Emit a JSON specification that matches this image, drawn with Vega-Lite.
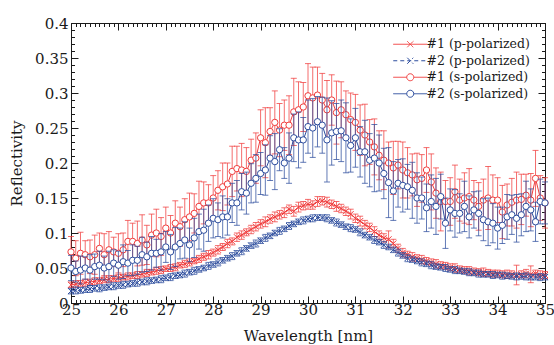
{
"$schema": "https://vega.github.io/schema/vega-lite/v6.json",
"width": 474, "height": 280,
"autosize": {"type": "none"},
"padding": {"left": 71, "top": 23, "right": 9, "bottom": 42},
"background": "white",
"config": {
  "view": {"stroke": "#1a1a1a", "strokeWidth": 1},
  "font": "DejaVu Serif",
  "axis": {"labelFont": "DejaVu Serif", "titleFont": "DejaVu Serif", "labelFontSize": 15, "titleFontSize": 15, "titleFontWeight": "normal", "labelColor": "#1a1a1a", "titleColor": "#1a1a1a", "tickColor": "#1a1a1a", "domain": false, "grid": false, "labelFlush": false, "labelOverlap": false},
  "legend": {"labelFont": "DejaVu Serif"}
},
"data": {"values": [
{"w":25.0,"p1":0.026,"p1e":0.004,"p2":0.017,"p2e":0.004,"s1":0.073,"s1e":0.022,"s2":0.050,"s2e":0.018},
{"w":25.1,"p1":0.027,"p1e":0.005,"p2":0.018,"p2e":0.005,"s1":0.064,"s1e":0.025,"s2":0.045,"s2e":0.015},
{"w":25.2,"p1":0.028,"p1e":0.004,"p2":0.018,"p2e":0.004,"s1":0.071,"s1e":0.030,"s2":0.047,"s2e":0.020},
{"w":25.3,"p1":0.029,"p1e":0.005,"p2":0.019,"p2e":0.004,"s1":0.069,"s1e":0.020,"s2":0.050,"s2e":0.016},
{"w":25.4,"p1":0.030,"p1e":0.004,"p2":0.020,"p2e":0.005,"s1":0.066,"s1e":0.024,"s2":0.047,"s2e":0.022},
{"w":25.5,"p1":0.031,"p1e":0.005,"p2":0.021,"p2e":0.004,"s1":0.069,"s1e":0.028,"s2":0.052,"s2e":0.018},
{"w":25.6,"p1":0.032,"p1e":0.004,"p2":0.021,"p2e":0.005,"s1":0.078,"s1e":0.022,"s2":0.054,"s2e":0.020},
{"w":25.7,"p1":0.033,"p1e":0.004,"p2":0.022,"p2e":0.004,"s1":0.069,"s1e":0.030,"s2":0.050,"s2e":0.017},
{"w":25.8,"p1":0.034,"p1e":0.005,"p2":0.023,"p2e":0.004,"s1":0.076,"s1e":0.026,"s2":0.052,"s2e":0.022},
{"w":25.9,"p1":0.035,"p1e":0.004,"p2":0.024,"p2e":0.005,"s1":0.073,"s1e":0.021,"s2":0.057,"s2e":0.019},
{"w":26.0,"p1":0.036,"p1e":0.005,"p2":0.025,"p2e":0.004,"s1":0.071,"s1e":0.028,"s2":0.054,"s2e":0.020},
{"w":26.1,"p1":0.037,"p1e":0.004,"p2":0.026,"p2e":0.005,"s1":0.076,"s1e":0.024,"s2":0.059,"s2e":0.024},
{"w":26.2,"p1":0.038,"p1e":0.005,"p2":0.027,"p2e":0.004,"s1":0.088,"s1e":0.030,"s2":0.057,"s2e":0.018},
{"w":26.3,"p1":0.039,"p1e":0.004,"p2":0.028,"p2e":0.004,"s1":0.088,"s1e":0.026,"s2":0.061,"s2e":0.022},
{"w":26.4,"p1":0.040,"p1e":0.005,"p2":0.029,"p2e":0.005,"s1":0.085,"s1e":0.032,"s2":0.061,"s2e":0.020},
{"w":26.5,"p1":0.041,"p1e":0.004,"p2":0.030,"p2e":0.004,"s1":0.090,"s1e":0.036,"s2":0.069,"s2e":0.025},
{"w":26.6,"p1":0.043,"p1e":0.005,"p2":0.031,"p2e":0.005,"s1":0.083,"s1e":0.028,"s2":0.066,"s2e":0.021},
{"w":26.7,"p1":0.044,"p1e":0.004,"p2":0.032,"p2e":0.004,"s1":0.097,"s1e":0.030,"s2":0.071,"s2e":0.024},
{"w":26.8,"p1":0.046,"p1e":0.005,"p2":0.033,"p2e":0.004,"s1":0.100,"s1e":0.034,"s2":0.071,"s2e":0.020},
{"w":26.9,"p1":0.047,"p1e":0.005,"p2":0.034,"p2e":0.005,"s1":0.095,"s1e":0.027,"s2":0.073,"s2e":0.026},
{"w":27.0,"p1":0.049,"p1e":0.004,"p2":0.036,"p2e":0.004,"s1":0.107,"s1e":0.030,"s2":0.080,"s2e":0.022},
{"w":27.1,"p1":0.050,"p1e":0.005,"p2":0.037,"p2e":0.005,"s1":0.100,"s1e":0.025,"s2":0.073,"s2e":0.025},
{"w":27.2,"p1":0.051,"p1e":0.005,"p2":0.039,"p2e":0.004,"s1":0.114,"s1e":0.032,"s2":0.080,"s2e":0.028},
{"w":27.3,"p1":0.054,"p1e":0.004,"p2":0.040,"p2e":0.004,"s1":0.109,"s1e":0.028,"s2":0.085,"s2e":0.022},
{"w":27.4,"p1":0.056,"p1e":0.005,"p2":0.042,"p2e":0.005,"s1":0.119,"s1e":0.030,"s2":0.090,"s2e":0.026},
{"w":27.5,"p1":0.058,"p1e":0.005,"p2":0.044,"p2e":0.004,"s1":0.123,"s1e":0.034,"s2":0.083,"s2e":0.024},
{"w":27.6,"p1":0.060,"p1e":0.004,"p2":0.046,"p2e":0.005,"s1":0.128,"s1e":0.028,"s2":0.093,"s2e":0.028},
{"w":27.7,"p1":0.063,"p1e":0.005,"p2":0.048,"p2e":0.004,"s1":0.138,"s1e":0.036,"s2":0.102,"s2e":0.025},
{"w":27.8,"p1":0.066,"p1e":0.005,"p2":0.050,"p2e":0.004,"s1":0.143,"s1e":0.030,"s2":0.104,"s2e":0.030},
{"w":27.9,"p1":0.069,"p1e":0.006,"p2":0.053,"p2e":0.005,"s1":0.143,"s1e":0.026,"s2":0.114,"s2e":0.026},
{"w":28.0,"p1":0.072,"p1e":0.005,"p2":0.055,"p2e":0.004,"s1":0.150,"s1e":0.032,"s2":0.121,"s2e":0.028},
{"w":28.1,"p1":0.076,"p1e":0.006,"p2":0.058,"p2e":0.005,"s1":0.161,"s1e":0.028,"s2":0.119,"s2e":0.024},
{"w":28.2,"p1":0.080,"p1e":0.005,"p2":0.061,"p2e":0.004,"s1":0.166,"s1e":0.034,"s2":0.123,"s2e":0.030},
{"w":28.3,"p1":0.085,"p1e":0.006,"p2":0.064,"p2e":0.004,"s1":0.170,"s1e":0.030,"s2":0.123,"s2e":0.026},
{"w":28.4,"p1":0.088,"p1e":0.005,"p2":0.067,"p2e":0.005,"s1":0.188,"s1e":0.036,"s2":0.143,"s2e":0.028},
{"w":28.5,"p1":0.094,"p1e":0.006,"p2":0.071,"p2e":0.004,"s1":0.192,"s1e":0.032,"s2":0.143,"s2e":0.032},
{"w":28.6,"p1":0.097,"p1e":0.006,"p2":0.074,"p2e":0.005,"s1":0.190,"s1e":0.038,"s2":0.159,"s2e":0.026},
{"w":28.7,"p1":0.101,"p1e":0.005,"p2":0.078,"p2e":0.004,"s1":0.188,"s1e":0.034,"s2":0.157,"s2e":0.030},
{"w":28.8,"p1":0.105,"p1e":0.006,"p2":0.082,"p2e":0.004,"s1":0.204,"s1e":0.030,"s2":0.171,"s2e":0.028},
{"w":28.9,"p1":0.109,"p1e":0.006,"p2":0.085,"p2e":0.005,"s1":0.207,"s1e":0.036,"s2":0.178,"s2e":0.034},
{"w":29.0,"p1":0.113,"p1e":0.006,"p2":0.089,"p2e":0.004,"s1":0.236,"s1e":0.040,"s2":0.185,"s2e":0.030},
{"w":29.1,"p1":0.116,"p1e":0.007,"p2":0.093,"p2e":0.005,"s1":0.229,"s1e":0.050,"s2":0.190,"s2e":0.036},
{"w":29.2,"p1":0.120,"p1e":0.006,"p2":0.096,"p2e":0.004,"s1":0.245,"s1e":0.034,"s2":0.207,"s2e":0.032},
{"w":29.3,"p1":0.123,"p1e":0.007,"p2":0.100,"p2e":0.004,"s1":0.258,"s1e":0.045,"s2":0.202,"s2e":0.040},
{"w":29.4,"p1":0.126,"p1e":0.006,"p2":0.103,"p2e":0.005,"s1":0.247,"s1e":0.038,"s2":0.219,"s2e":0.030},
{"w":29.5,"p1":0.129,"p1e":0.007,"p2":0.106,"p2e":0.004,"s1":0.254,"s1e":0.036,"s2":0.200,"s2e":0.022},
{"w":29.6,"p1":0.134,"p1e":0.006,"p2":0.110,"p2e":0.005,"s1":0.254,"s1e":0.042,"s2":0.207,"s2e":0.036},
{"w":29.7,"p1":0.131,"p1e":0.007,"p2":0.113,"p2e":0.004,"s1":0.273,"s1e":0.048,"s2":0.236,"s2e":0.034},
{"w":29.8,"p1":0.137,"p1e":0.007,"p2":0.116,"p2e":0.004,"s1":0.276,"s1e":0.040,"s2":0.233,"s2e":0.040},
{"w":29.9,"p1":0.139,"p1e":0.006,"p2":0.118,"p2e":0.005,"s1":0.280,"s1e":0.035,"s2":0.233,"s2e":0.032},
{"w":30.0,"p1":0.141,"p1e":0.007,"p2":0.120,"p2e":0.004,"s1":0.296,"s1e":0.046,"s2":0.252,"s2e":0.038},
{"w":30.1,"p1":0.140,"p1e":0.006,"p2":0.121,"p2e":0.005,"s1":0.293,"s1e":0.044,"s2":0.250,"s2e":0.042},
{"w":30.2,"p1":0.145,"p1e":0.007,"p2":0.122,"p2e":0.004,"s1":0.297,"s1e":0.040,"s2":0.259,"s2e":0.036},
{"w":30.3,"p1":0.146,"p1e":0.006,"p2":0.122,"p2e":0.004,"s1":0.290,"s1e":0.038,"s2":0.254,"s2e":0.040},
{"w":30.4,"p1":0.144,"p1e":0.007,"p2":0.121,"p2e":0.005,"s1":0.276,"s1e":0.042,"s2":0.233,"s2e":0.060},
{"w":30.5,"p1":0.141,"p1e":0.006,"p2":0.118,"p2e":0.004,"s1":0.290,"s1e":0.036,"s2":0.243,"s2e":0.046},
{"w":30.6,"p1":0.138,"p1e":0.007,"p2":0.115,"p2e":0.005,"s1":0.272,"s1e":0.045,"s2":0.245,"s2e":0.040},
{"w":30.7,"p1":0.135,"p1e":0.006,"p2":0.112,"p2e":0.004,"s1":0.276,"s1e":0.040,"s2":0.246,"s2e":0.044},
{"w":30.8,"p1":0.131,"p1e":0.006,"p2":0.109,"p2e":0.004,"s1":0.269,"s1e":0.034,"s2":0.236,"s2e":0.050},
{"w":30.9,"p1":0.127,"p1e":0.007,"p2":0.107,"p2e":0.005,"s1":0.262,"s1e":0.038,"s2":0.225,"s2e":0.038},
{"w":31.0,"p1":0.121,"p1e":0.006,"p2":0.105,"p2e":0.004,"s1":0.258,"s1e":0.040,"s2":0.236,"s2e":0.042},
{"w":31.1,"p1":0.117,"p1e":0.007,"p2":0.101,"p2e":0.005,"s1":0.247,"s1e":0.036,"s2":0.216,"s2e":0.036},
{"w":31.2,"p1":0.112,"p1e":0.006,"p2":0.097,"p2e":0.004,"s1":0.240,"s1e":0.044,"s2":0.216,"s2e":0.045},
{"w":31.3,"p1":0.108,"p1e":0.006,"p2":0.094,"p2e":0.004,"s1":0.230,"s1e":0.032,"s2":0.204,"s2e":0.038},
{"w":31.4,"p1":0.102,"p1e":0.007,"p2":0.090,"p2e":0.005,"s1":0.223,"s1e":0.040,"s2":0.207,"s2e":0.048},
{"w":31.5,"p1":0.097,"p1e":0.006,"p2":0.087,"p2e":0.004,"s1":0.211,"s1e":0.035,"s2":0.200,"s2e":0.040},
{"w":31.6,"p1":0.093,"p1e":0.006,"p2":0.083,"p2e":0.005,"s1":0.204,"s1e":0.042,"s2":0.185,"s2e":0.036},
{"w":31.7,"p1":0.091,"p1e":0.012,"p2":0.080,"p2e":0.004,"s1":0.200,"s1e":0.030,"s2":0.172,"s2e":0.050},
{"w":31.8,"p1":0.085,"p1e":0.006,"p2":0.076,"p2e":0.004,"s1":0.193,"s1e":0.038,"s2":0.160,"s2e":0.042},
{"w":31.9,"p1":0.078,"p1e":0.006,"p2":0.072,"p2e":0.005,"s1":0.197,"s1e":0.034,"s2":0.171,"s2e":0.034},
{"w":32.0,"p1":0.072,"p1e":0.006,"p2":0.068,"p2e":0.004,"s1":0.190,"s1e":0.040,"s2":0.168,"s2e":0.038},
{"w":32.1,"p1":0.069,"p1e":0.005,"p2":0.064,"p2e":0.005,"s1":0.186,"s1e":0.036,"s2":0.166,"s2e":0.032},
{"w":32.2,"p1":0.066,"p1e":0.006,"p2":0.062,"p2e":0.004,"s1":0.183,"s1e":0.030,"s2":0.161,"s2e":0.040},
{"w":32.3,"p1":0.064,"p1e":0.005,"p2":0.060,"p2e":0.004,"s1":0.176,"s1e":0.038,"s2":0.150,"s2e":0.036},
{"w":32.4,"p1":0.062,"p1e":0.006,"p2":0.058,"p2e":0.005,"s1":0.178,"s1e":0.034,"s2":0.150,"s2e":0.030},
{"w":32.5,"p1":0.060,"p1e":0.005,"p2":0.056,"p2e":0.004,"s1":0.190,"s1e":0.032,"s2":0.136,"s2e":0.034},
{"w":32.6,"p1":0.058,"p1e":0.005,"p2":0.054,"p2e":0.005,"s1":0.173,"s1e":0.040,"s2":0.145,"s2e":0.038},
{"w":32.7,"p1":0.056,"p1e":0.006,"p2":0.052,"p2e":0.004,"s1":0.157,"s1e":0.036,"s2":0.138,"s2e":0.040},
{"w":32.8,"p1":0.054,"p1e":0.005,"p2":0.051,"p2e":0.004,"s1":0.145,"s1e":0.042,"s2":0.152,"s2e":0.032},
{"w":32.9,"p1":0.053,"p1e":0.005,"p2":0.050,"p2e":0.005,"s1":0.145,"s1e":0.030,"s2":0.114,"s2e":0.036},
{"w":33.0,"p1":0.051,"p1e":0.005,"p2":0.048,"p2e":0.004,"s1":0.145,"s1e":0.034,"s2":0.133,"s2e":0.030},
{"w":33.1,"p1":0.050,"p1e":0.006,"p2":0.047,"p2e":0.005,"s1":0.159,"s1e":0.038,"s2":0.128,"s2e":0.034},
{"w":33.2,"p1":0.048,"p1e":0.005,"p2":0.046,"p2e":0.004,"s1":0.147,"s1e":0.030,"s2":0.128,"s2e":0.028},
{"w":33.3,"p1":0.047,"p1e":0.005,"p2":0.045,"p2e":0.004,"s1":0.150,"s1e":0.036,"s2":0.138,"s2e":0.036},
{"w":33.4,"p1":0.046,"p1e":0.006,"p2":0.044,"p2e":0.005,"s1":0.152,"s1e":0.040,"s2":0.123,"s2e":0.030},
{"w":33.5,"p1":0.045,"p1e":0.005,"p2":0.043,"p2e":0.004,"s1":0.147,"s1e":0.028,"s2":0.133,"s2e":0.026},
{"w":33.6,"p1":0.044,"p1e":0.005,"p2":0.042,"p2e":0.005,"s1":0.138,"s1e":0.034,"s2":0.128,"s2e":0.032},
{"w":33.7,"p1":0.044,"p1e":0.006,"p2":0.041,"p2e":0.004,"s1":0.147,"s1e":0.030,"s2":0.119,"s2e":0.030},
{"w":33.8,"p1":0.043,"p1e":0.005,"p2":0.041,"p2e":0.004,"s1":0.150,"s1e":0.045,"s2":0.116,"s2e":0.034},
{"w":33.9,"p1":0.042,"p1e":0.005,"p2":0.040,"p2e":0.005,"s1":0.147,"s1e":0.036,"s2":0.114,"s2e":0.028},
{"w":34.0,"p1":0.042,"p1e":0.005,"p2":0.040,"p2e":0.004,"s1":0.147,"s1e":0.032,"s2":0.107,"s2e":0.030},
{"w":34.1,"p1":0.041,"p1e":0.005,"p2":0.039,"p2e":0.005,"s1":0.130,"s1e":0.038,"s2":0.111,"s2e":0.026},
{"w":34.2,"p1":0.041,"p1e":0.006,"p2":0.039,"p2e":0.004,"s1":0.140,"s1e":0.030,"s2":0.123,"s2e":0.032},
{"w":34.3,"p1":0.041,"p1e":0.005,"p2":0.038,"p2e":0.004,"s1":0.144,"s1e":0.034,"s2":0.126,"s2e":0.028},
{"w":34.4,"p1":0.040,"p1e":0.014,"p2":0.038,"p2e":0.005,"s1":0.147,"s1e":0.040,"s2":0.121,"s2e":0.034},
{"w":34.5,"p1":0.041,"p1e":0.005,"p2":0.038,"p2e":0.004,"s1":0.148,"s1e":0.036,"s2":0.126,"s2e":0.030},
{"w":34.6,"p1":0.042,"p1e":0.006,"p2":0.038,"p2e":0.005,"s1":0.154,"s1e":0.030,"s2":0.138,"s2e":0.036},
{"w":34.7,"p1":0.041,"p1e":0.012,"p2":0.037,"p2e":0.004,"s1":0.147,"s1e":0.038,"s2":0.133,"s2e":0.030},
{"w":34.8,"p1":0.042,"p1e":0.005,"p2":0.037,"p2e":0.004,"s1":0.178,"s1e":0.040,"s2":0.116,"s2e":0.028},
{"w":34.9,"p1":0.040,"p1e":0.006,"p2":0.037,"p2e":0.005,"s1":0.150,"s1e":0.032,"s2":0.145,"s2e":0.032},
{"w":35.0,"p1":0.040,"p1e":0.005,"p2":0.037,"p2e":0.004,"s1":0.143,"s1e":0.036,"s2":0.143,"s2e":0.030}
]},
"resolve": {"axis": {"x": "independent", "y": "independent"}},
"layer": [
{"transform": [{"filter": "false"}], "mark": {"type": "point", "opacity": 0},
 "encoding": {
  "x": {"field": "w", "type": "quantitative", "scale": {"domain": [25, 35], "nice": false, "zero": false}, "axis": {"orient": "bottom", "tickCount": 10, "tickSize": -7, "labelPadding": 6, "format": "~g", "title": "Wavelength [nm]", "titlePadding": 11}},
  "y": {"field": "s1", "type": "quantitative", "scale": {"domain": [0, 0.4], "nice": false}, "axis": {"orient": "left", "tickCount": 8, "tickSize": -7, "labelPadding": 10, "format": "~g", "title": "Reflectivity", "titlePadding": 10}}}},
{"transform": [{"filter": "false"}], "mark": {"type": "point", "opacity": 0},
 "encoding": {
  "x": {"field": "w", "type": "quantitative", "scale": {"domain": [25, 35], "nice": false, "zero": false}, "axis": {"orient": "bottom", "tickCount": 100, "tickSize": -3.5, "labels": false, "title": null}},
  "y": {"field": "s1", "type": "quantitative", "scale": {"domain": [0, 0.4], "nice": false}, "axis": {"orient": "left", "tickCount": 40, "tickSize": -3.5, "labels": false, "title": null}}}},
{"transform": [{"filter": "false"}], "mark": {"type": "point", "opacity": 0},
 "encoding": {
  "x": {"field": "w", "type": "quantitative", "scale": {"domain": [25, 35], "nice": false, "zero": false}, "axis": {"orient": "top", "tickCount": 10, "tickSize": -7, "labels": false, "title": null}},
  "y": {"field": "s1", "type": "quantitative", "scale": {"domain": [0, 0.4], "nice": false}, "axis": {"orient": "right", "tickCount": 8, "tickSize": -7, "labels": false, "title": null}}}},
{"transform": [{"filter": "false"}], "mark": {"type": "point", "opacity": 0},
 "encoding": {
  "x": {"field": "w", "type": "quantitative", "scale": {"domain": [25, 35], "nice": false, "zero": false}, "axis": {"orient": "top", "tickCount": 100, "tickSize": -3.5, "labels": false, "title": null}},
  "y": {"field": "s1", "type": "quantitative", "scale": {"domain": [0, 0.4], "nice": false}, "axis": {"orient": "right", "tickCount": 40, "tickSize": -3.5, "labels": false, "title": null}}}},

{"mark": {"type": "errorbar", "ticks": {"size": 6}, "color": "#f03c3c", "opacity": 0.75},
 "encoding": {"x": {"field": "w", "type": "quantitative", "scale": {"domain": [25, 35], "nice": false, "zero": false}, "axis": null},
  "y": {"field": "p1", "type": "quantitative", "scale": {"domain": [0, 0.4], "nice": false}, "axis": null}, "yError": {"field": "p1e"}}},
{"mark": {"type": "line", "color": "#f03c3c", "strokeWidth": 1},
 "encoding": {"x": {"field": "w", "type": "quantitative", "scale": {"domain": [25, 35], "nice": false, "zero": false}, "axis": null},
  "y": {"field": "p1", "type": "quantitative", "scale": {"domain": [0, 0.4], "nice": false}, "axis": null}}},
{"mark": {"type": "point", "shape": "M-1,-1L1,1M-1,1L1,-1", "size": 36, "filled": false, "color": "#f03c3c", "strokeWidth": 1, "opacity": 1},
 "encoding": {"x": {"field": "w", "type": "quantitative", "scale": {"domain": [25, 35], "nice": false, "zero": false}, "axis": null},
  "y": {"field": "p1", "type": "quantitative", "scale": {"domain": [0, 0.4], "nice": false}, "axis": null}}},

{"mark": {"type": "errorbar", "ticks": {"size": 6}, "color": "#2d4d9e", "opacity": 0.75},
 "encoding": {"x": {"field": "w", "type": "quantitative", "scale": {"domain": [25, 35], "nice": false, "zero": false}, "axis": null},
  "y": {"field": "p2", "type": "quantitative", "scale": {"domain": [0, 0.4], "nice": false}, "axis": null}, "yError": {"field": "p2e"}}},
{"mark": {"type": "line", "color": "#2d4d9e", "strokeWidth": 1, "strokeDash": [4, 3]},
 "encoding": {"x": {"field": "w", "type": "quantitative", "scale": {"domain": [25, 35], "nice": false, "zero": false}, "axis": null},
  "y": {"field": "p2", "type": "quantitative", "scale": {"domain": [0, 0.4], "nice": false}, "axis": null}}},
{"mark": {"type": "point", "shape": "M-1,-1L1,1M-1,1L1,-1", "size": 36, "filled": false, "color": "#2d4d9e", "strokeWidth": 1, "opacity": 1},
 "encoding": {"x": {"field": "w", "type": "quantitative", "scale": {"domain": [25, 35], "nice": false, "zero": false}, "axis": null},
  "y": {"field": "p2", "type": "quantitative", "scale": {"domain": [0, 0.4], "nice": false}, "axis": null}}},

{"mark": {"type": "errorbar", "ticks": {"size": 6}, "color": "#f03c3c", "opacity": 0.75},
 "encoding": {"x": {"field": "w", "type": "quantitative", "scale": {"domain": [25, 35], "nice": false, "zero": false}, "axis": null},
  "y": {"field": "s1", "type": "quantitative", "scale": {"domain": [0, 0.4], "nice": false}, "axis": null}, "yError": {"field": "s1e"}}},
{"mark": {"type": "line", "color": "#f03c3c", "strokeWidth": 1},
 "encoding": {"x": {"field": "w", "type": "quantitative", "scale": {"domain": [25, 35], "nice": false, "zero": false}, "axis": null},
  "y": {"field": "s1", "type": "quantitative", "scale": {"domain": [0, 0.4], "nice": false}, "axis": null}}},
{"mark": {"type": "point", "shape": "circle", "size": 40, "filled": true, "fill": "white", "stroke": "#f03c3c", "strokeWidth": 1, "opacity": 1},
 "encoding": {"x": {"field": "w", "type": "quantitative", "scale": {"domain": [25, 35], "nice": false, "zero": false}, "axis": null},
  "y": {"field": "s1", "type": "quantitative", "scale": {"domain": [0, 0.4], "nice": false}, "axis": null}}},

{"mark": {"type": "errorbar", "ticks": {"size": 6}, "color": "#2d4d9e", "opacity": 0.75},
 "encoding": {"x": {"field": "w", "type": "quantitative", "scale": {"domain": [25, 35], "nice": false, "zero": false}, "axis": null},
  "y": {"field": "s2", "type": "quantitative", "scale": {"domain": [0, 0.4], "nice": false}, "axis": null}, "yError": {"field": "s2e"}}},
{"mark": {"type": "line", "color": "#2d4d9e", "strokeWidth": 1},
 "encoding": {"x": {"field": "w", "type": "quantitative", "scale": {"domain": [25, 35], "nice": false, "zero": false}, "axis": null},
  "y": {"field": "s2", "type": "quantitative", "scale": {"domain": [0, 0.4], "nice": false}, "axis": null}}},
{"mark": {"type": "point", "shape": "circle", "size": 40, "filled": true, "fill": "white", "stroke": "#2d4d9e", "strokeWidth": 1, "opacity": 1},
 "encoding": {"x": {"field": "w", "type": "quantitative", "scale": {"domain": [25, 35], "nice": false, "zero": false}, "axis": null},
  "y": {"field": "s2", "type": "quantitative", "scale": {"domain": [0, 0.4], "nice": false}, "axis": null}}},

{"data": {"values": [{"n": "#1 (p-polarized)"}, {"n": "#2 (p-polarized)"}, {"n": "#1 (s-polarized)"}, {"n": "#2 (s-polarized)"}]},
 "transform": [{"filter": "false"}],
 "mark": {"type": "point", "filled": false, "strokeWidth": 1, "opacity": 1},
 "encoding": {
  "color": {"field": "n", "type": "nominal",
    "scale": {"domain": ["#1 (p-polarized)", "#2 (p-polarized)", "#1 (s-polarized)", "#2 (s-polarized)"], "range": ["#f03c3c", "#2d4d9e", "#f03c3c", "#2d4d9e"]},
    "legend": {"title": null, "orient": "top-right", "offset": 15, "padding": 0, "labelFont": "DejaVu Serif", "labelFontSize": 12.5, "labelColor": "#1a1a1a", "symbolSize": 100, "symbolStrokeWidth": 1, "labelOffset": 10, "rowPadding": 3.5}},
  "shape": {"field": "n", "type": "nominal",
    "scale": {"domain": ["#1 (p-polarized)", "#2 (p-polarized)", "#1 (s-polarized)", "#2 (s-polarized)"], "range": ["M-3.4,0L3.4,0M-0.6,-0.6L0.6,0.6M-0.6,0.6L0.6,-0.6", "M-3.4,0L3.4,0M-0.6,-0.6L0.6,0.6M-0.6,0.6L0.6,-0.6", "M-3.4,0L-0.7,0M0.7,0L3.4,0M-0.7,0A0.7,0.7,0,1,1,0.7,0A0.7,0.7,0,1,1,-0.7,0", "M-3.4,0L-0.7,0M0.7,0L3.4,0M-0.7,0A0.7,0.7,0,1,1,0.7,0A0.7,0.7,0,1,1,-0.7,0"]},
    "legend": {"title": null, "orient": "top-right", "offset": 15, "padding": 0, "labelFont": "DejaVu Serif", "labelFontSize": 12.5, "labelColor": "#1a1a1a", "symbolSize": 100, "symbolStrokeWidth": 1, "labelOffset": 10, "rowPadding": 3.5}},
  "strokeDash": {"field": "n", "type": "nominal",
    "scale": {"domain": ["#1 (p-polarized)", "#2 (p-polarized)", "#1 (s-polarized)", "#2 (s-polarized)"], "range": [[1, 0], [4, 3], [1, 0], [1, 0]]},
    "legend": {"title": null, "orient": "top-right", "offset": 15, "padding": 0, "labelFont": "DejaVu Serif", "labelFontSize": 12.5, "labelColor": "#1a1a1a", "symbolSize": 100, "symbolStrokeWidth": 1, "labelOffset": 10, "rowPadding": 3.5}}
 }}
]
}
